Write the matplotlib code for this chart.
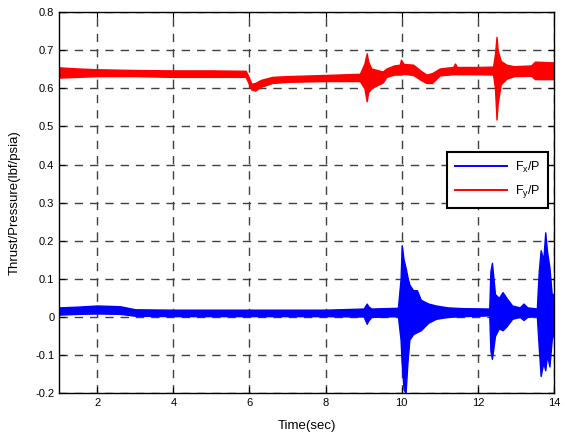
import matplotlib
matplotlib.use("Agg")
import matplotlib.pyplot as plt
from matplotlib.lines import Line2D

plt.rcParams['font.family'] = ['Liberation Sans', 'DejaVu Sans']
plt.rcParams['mathtext.default'] = 'regular'

# Envelope of F_y/P (time, lower, upper)
fy_t =     [1.0,  1.5,  2.0,  3.0,  4.0,  5.0,  5.9,  5.97, 6.05, 6.15, 6.3,  6.6,  7.0,  8.0,  8.9,  9.02, 9.08, 9.12, 9.2,  9.35, 9.5,  9.6,  9.8,  9.95, 9.98, 10.05, 10.3, 10.5, 10.65, 10.8, 11.0, 11.35, 11.4, 11.45, 12.0, 12.4, 12.45, 12.49, 12.52, 12.6, 12.75, 12.95, 13.4, 13.5, 14.0]
fy_low =   [0.628,0.630,0.632,0.632,0.630,0.630,0.630,0.615,0.597,0.594,0.604,0.614,0.617,0.619,0.619,0.600,0.566,0.590,0.600,0.608,0.615,0.630,0.636,0.636,0.636,0.638, 0.635,0.622,0.614, 0.614,0.634,0.637, 0.637,0.637, 0.637,0.636,0.600, 0.518, 0.560, 0.610,0.625, 0.632, 0.633,0.624,0.624]
fy_high =  [0.655,0.652,0.650,0.648,0.647,0.647,0.646,0.632,0.612,0.614,0.622,0.630,0.632,0.635,0.638,0.665,0.692,0.670,0.652,0.648,0.644,0.652,0.660,0.662,0.675,0.664, 0.662,0.646,0.636, 0.640,0.652,0.656, 0.665,0.656, 0.656,0.657,0.690, 0.735, 0.700, 0.672,0.662, 0.658, 0.660,0.670,0.668]

# Envelope of F_x/P (time, lower, upper)
fx_t =     [1.0,  1.5,  2.0,  2.6,  3.0,  4.0,  6.0,  8.0,  9.0,  9.08,  9.12, 9.2,  9.9,  9.97, 10.0, 10.05, 10.1, 10.15, 10.2,  10.3,  10.4,  10.5,  10.7,  10.9, 11.2, 11.6, 12.3, 12.33, 12.37, 12.45, 12.55, 12.65, 12.75, 12.9, 13.1, 13.2, 13.3, 13.55, 13.6,  13.65, 13.72, 13.77, 13.82, 13.88, 13.94, 14.0]
fx_low =   [0.006,0.008,0.009,0.008,0.003,0.002,0.002,0.002,0.001,-0.018,-0.010,0.000,0.002,-0.060,-0.125,-0.190,-0.200,-0.120,-0.060,-0.045,-0.040,-0.035,-0.015,-0.005,0.000,0.002,0.004,-0.090,-0.110,-0.050,-0.030,-0.035,-0.025,-0.005,0.000,-0.008,0.000, 0.002,-0.080,-0.155,-0.120,-0.140,-0.100,-0.130,-0.060,-0.040]
fx_high =  [0.025,0.027,0.030,0.028,0.020,0.019,0.019,0.019,0.022,0.035, 0.028, 0.022,0.024,0.100, 0.188, 0.150, 0.130, 0.105, 0.085, 0.070, 0.070, 0.045, 0.035, 0.030, 0.025,0.023,0.022,0.120, 0.142, 0.060, 0.050, 0.065, 0.050, 0.030, 0.025, 0.035, 0.025, 0.022, 0.120, 0.175, 0.150, 0.222, 0.170, 0.130, 0.060, 0.060]

x_ticks = [2, 4, 6, 8, 10, 12, 14]
y_ticks = [-0.2, -0.1, 0, 0.1, 0.2, 0.3, 0.4, 0.5, 0.6, 0.7, 0.8]
y_labels = ['-0.2', '-0.1', '0', '0.1', '0.2', '0.3', '0.4', '0.5', '0.6', '0.7', '0.8']

fig = plt.figure(figsize=(5.63, 4.32), dpi=100)
ax = fig.add_axes([0.105, 0.090, 0.879, 0.882])

blue = '#0000ff'
red = '#ff0000'
ax.fill_between(fx_t, fx_low, fx_high, color=blue, linewidth=1.0, edgecolor=blue, zorder=3)
ax.fill_between(fy_t, fy_low, fy_high, color=red, linewidth=1.0, edgecolor=red, zorder=3)

ax.set_xlim(1, 14)
ax.set_ylim(-0.2, 0.8)
ax.set_xticks(x_ticks)
ax.set_yticks(y_ticks)
ax.set_yticklabels(y_labels)
ax.tick_params(direction='in', length=4, width=0.8, labelsize=8, top=True, right=True, colors='black')
ax.grid(True, color='#404040', linestyle=(0, (6, 5)), linewidth=1.0)
for s in ax.spines.values():
    s.set_linewidth(1.0)
    s.set_zorder(5)

ax.set_xlabel('Time(sec)', fontsize=9.5, labelpad=9)
ax.set_ylabel('Thrust/Pressure(lbf/psia)', fontsize=9.5, labelpad=10)

handles = [Line2D([], [], color=blue, lw=1.4), Line2D([], [], color=red, lw=1.4)]
leg = ax.legend(handles, ['F$_x$/P', 'F$_y$/P'], loc='upper right',
                bbox_to_anchor=(0.988, 0.633), borderaxespad=0, fontsize=9,
                fancybox=False, framealpha=1, edgecolor='black', handlelength=4.2,
                borderpad=0.6, labelspacing=0.7, handletextpad=0.6)
leg.get_frame().set_linewidth(1.5)
leg.set_zorder(6)

fig.savefig('out.png', dpi=100)
